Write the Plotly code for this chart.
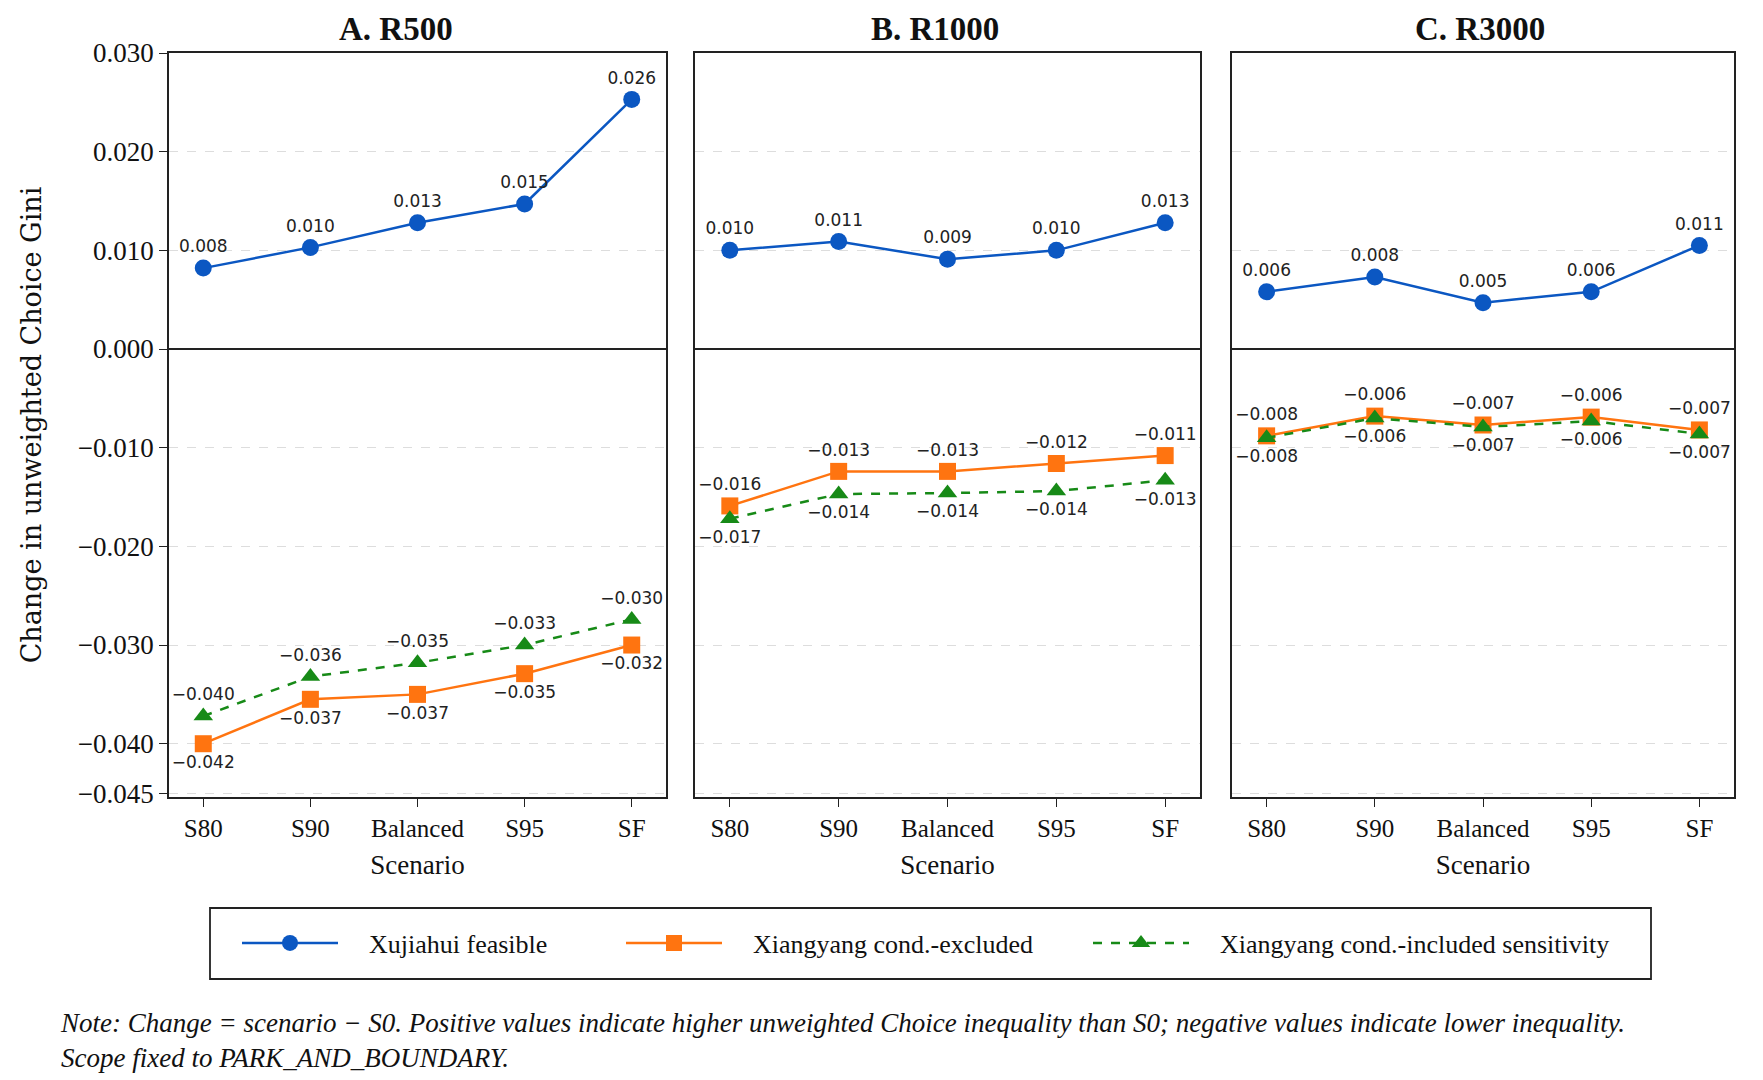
import plotly.graph_objects as go
from plotly.subplots import make_subplots

W, H = 1763, 1080
OFF = 8  # page body margin

scenarios = ["S80", "S90", "Balanced", "S95", "SF"]
panels = ["A. R500", "B. R1000", "C. R3000"]

# plotted values
xujiahui = [
    [0.0082, 0.0103, 0.0128, 0.0147, 0.0253],
    [0.0100, 0.0109, 0.0091, 0.0100, 0.0128],
    [0.0058, 0.0073, 0.0047, 0.0058, 0.0105],
]
xy_excl = [
    [-0.0400, -0.0355, -0.0350, -0.0329, -0.0300],
    [-0.0159, -0.0124, -0.0124, -0.0116, -0.0108],
    [-0.0088, -0.0068, -0.0077, -0.0069, -0.0082],
]
xy_incl = [
    [-0.0372, -0.0332, -0.0318, -0.0300, -0.0274],
    [-0.0172, -0.0147, -0.0146, -0.0144, -0.0133],
    [-0.0090, -0.0070, -0.0079, -0.0073, -0.0086],
]

# point labels as printed in the figure
xujiahui_lbl = [
    ["0.008", "0.010", "0.013", "0.015", "0.026"],
    ["0.010", "0.011", "0.009", "0.010", "0.013"],
    ["0.006", "0.008", "0.005", "0.006", "0.011"],
]
xy_excl_lbl = [
    ["−0.042", "−0.037", "−0.037", "−0.035", "−0.032"],
    ["−0.016", "−0.013", "−0.013", "−0.012", "−0.011"],
    ["−0.008", "−0.006", "−0.007", "−0.006", "−0.007"],
]
xy_incl_lbl = [
    ["−0.040", "−0.036", "−0.035", "−0.033", "−0.030"],
    ["−0.017", "−0.014", "−0.014", "−0.014", "−0.013"],
    ["−0.008", "−0.006", "−0.007", "−0.006", "−0.007"],
]

ytick_vals = [0.030, 0.020, 0.010, 0.000, -0.010, -0.020, -0.030, -0.040, -0.045]
ytick_text = ["0.030", "0.020", "0.010", "0.000", "−0.010", "−0.020", "−0.030", "−0.040", "−0.045"]

BLUE = "#0B57C2"
ORANGE = "#FF7410"
GREEN = "#178A17"
SERIF = "Liberation Serif"
LBL_FONT = dict(family="DejaVu Sans", size=17, color="#222")


def px(x):
    return (x - OFF) / W


def py(y):
    return 1 - (y - OFF) / H


fig = make_subplots(rows=1, cols=3, shared_yaxes=True)

x_dom = [(169, 666), (695, 1200), (1232, 1734)]
y_dom = (py(797), py(53))
title_x = [396, 935, 1480]

for i in range(3):
    col = i + 1
    # which Xiangyang series sits higher -> gets labels above
    excl_up = sum(xy_excl[i]) > sum(xy_incl[i])
    fig.add_trace(go.Scatter(
        x=scenarios, y=xujiahui[i], mode="lines+markers+text",
        name="\u2003Xujiahui feasible", legend="legend", showlegend=(i == 0),
        line=dict(color=BLUE, width=2.5), marker=dict(symbol="circle", size=17, color=BLUE),
        text=xujiahui_lbl[i], textposition="top center", textfont=LBL_FONT,
        cliponaxis=False), row=1, col=col)
    fig.add_trace(go.Scatter(
        x=scenarios, y=xy_excl[i], mode="lines+markers+text",
        name="\u2003Xiangyang cond.-excluded", legend="legend2", showlegend=(i == 0),
        line=dict(color=ORANGE, width=2.5), marker=dict(symbol="square", size=17, color=ORANGE),
        text=xy_excl_lbl[i], textposition="top center" if excl_up else "bottom center",
        textfont=LBL_FONT, cliponaxis=False), row=1, col=col)
    fig.add_trace(go.Scatter(
        x=scenarios, y=xy_incl[i], mode="lines+markers+text",
        name="\u2003Xiangyang cond.-included sensitivity", legend="legend3", showlegend=(i == 0),
        line=dict(color=GREEN, width=2.5, dash="dash"), marker=dict(symbol="triangle-up", size=17, color=GREEN),
        text=xy_incl_lbl[i], textposition="bottom center" if excl_up else "top center",
        textfont=LBL_FONT, cliponaxis=False), row=1, col=col)

    xa = "xaxis" if i == 0 else f"xaxis{col}"
    ya = "yaxis" if i == 0 else f"yaxis{col}"
    fig.layout[xa].update(
        domain=[px(x_dom[i][0]), px(x_dom[i][1])], automargin=False,
        range=[-0.32, 4.32], showline=True, mirror=True, linecolor="#222", linewidth=1.5,
        ticks="outside", ticklen=8, tickcolor="#222", showgrid=False,
        tickfont=dict(family=SERIF, size=25, color="#111"),
        title=dict(text="Scenario", font=dict(family=SERIF, size=27, color="#111"), standoff=14))
    fig.layout[ya].update(
        domain=list(y_dom), range=[-0.0454, 0.030], automargin=False,
        tickvals=ytick_vals, ticktext=ytick_text,
        showline=True, mirror=True, linecolor="#222", linewidth=1.5,
        showgrid=True, gridcolor="#DDDDDD", griddash="dash", gridwidth=1,
        zeroline=True, zerolinecolor="#222", zerolinewidth=1.5,
        ticks="outside" if i == 0 else "", ticklen=8, tickcolor="#222",
        showticklabels=(i == 0),
        tickfont=dict(family=SERIF, size=27, color="#111"))
    fig.add_annotation(text="<b>%s</b>" % panels[i], xref="paper", yref="paper",
                       x=px(title_x[i]), y=py(29),
                       xanchor="center", yanchor="middle", showarrow=False,
                       font=dict(family=SERIF, size=33, color="#111"))

fig.layout.yaxis.title = dict(text="Change in unweighted Choice Gini",
                              font=dict(family="DejaVu Serif", size=27, color="#111"), standoff=28)

# legend frame
fig.add_shape(type="rect", xref="paper", yref="paper",
              x0=px(210), x1=px(1651), y0=py(979), y1=py(908),
              line=dict(color="#222", width=1.8), fillcolor="white", layer="below")

leg_common = dict(orientation="h", yanchor="middle", y=py(943), xanchor="left",
                  bgcolor="rgba(0,0,0,0)", borderwidth=0, itemwidth=96,
                  font=dict(family=SERIF, size=26, color="#111"))
fig.update_layout(
    legend=dict(x=px(237), **leg_common),
    legend2=dict(x=px(621), **leg_common),
    legend3=dict(x=px(1088), **leg_common),
)

note = ("Note: Change = scenario − S0. Positive values indicate higher unweighted Choice inequality than S0; "
        "negative values indicate lower inequality.<br>Scope fixed to PARK_AND_BOUNDARY.")
fig.add_annotation(text="<i>%s</i>" % note, xref="paper", yref="paper", x=px(58), y=py(1006),
                   xanchor="left", yanchor="top", align="left", showarrow=False,
                   font=dict(family=SERIF, size=27, color="#111"))

fig.update_layout(width=W, height=H, margin=dict(l=0, r=0, t=0, b=0, autoexpand=False),
                  paper_bgcolor="white", plot_bgcolor="white")

fig.write_html("out.html")
